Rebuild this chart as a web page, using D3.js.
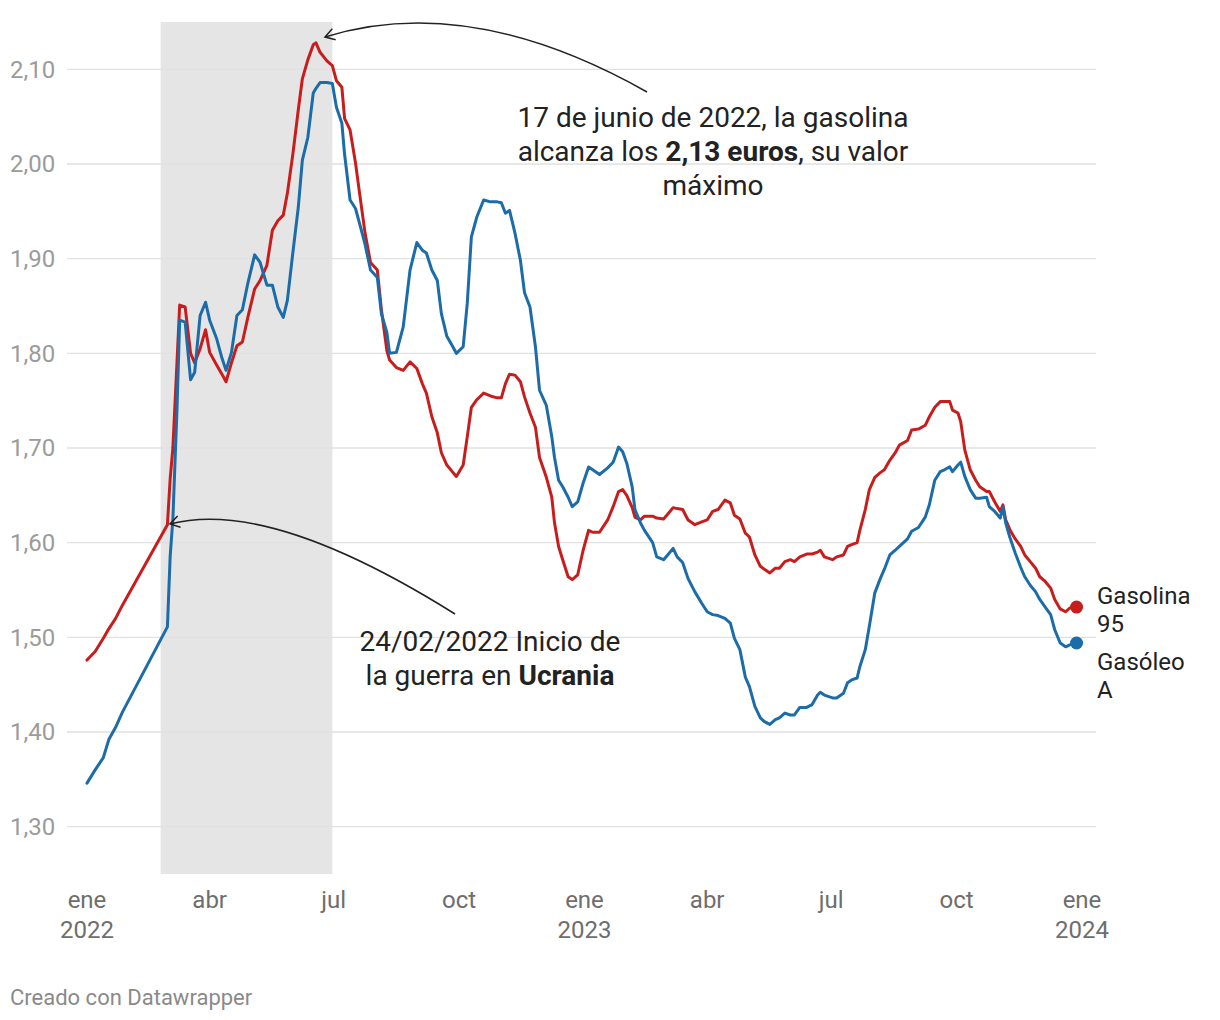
<!DOCTYPE html>
<html><head><meta charset="utf-8">
<script src="https://cdn.jsdelivr.net/npm/d3@7"></script>
<style>
html,body{margin:0;padding:0;background:#fff;}
svg text{font-family:Roboto,"Noto Sans",sans-serif;}
</style></head>
<body>
<svg id="chart" width="1220" height="1020"></svg>
<script>
const dates = ["2022-01-01","2022-01-07","2022-01-13","2022-01-17","2022-01-22","2022-01-27","2022-03-01","2022-03-03","2022-03-05","2022-03-08","2022-03-10","2022-03-14","2022-03-18","2022-03-21","2022-03-25","2022-03-29","2022-04-01","2022-04-06","2022-04-10","2022-04-13","2022-04-17","2022-04-21","2022-04-25","2022-04-29","2022-05-04","2022-05-08","2022-05-13","2022-05-17","2022-05-21","2022-05-25","2022-05-28","2022-06-01","2022-06-05","2022-06-08","2022-06-12","2022-06-16","2022-06-18","2022-06-21","2022-06-26","2022-06-30","2022-07-03","2022-07-07","2022-07-09","2022-07-13","2022-07-17","2022-07-20","2022-07-24","2022-07-28","2022-08-02","2022-08-05","2022-08-09","2022-08-11","2022-08-16","2022-08-21","2022-08-26","2022-08-31","2022-09-04","2022-09-07","2022-09-11","2022-09-15","2022-09-18","2022-09-22","2022-09-26","2022-09-29","2022-10-04","2022-10-07","2022-10-10","2022-10-14","2022-10-19","2022-10-24","2022-10-29","2022-11-01","2022-11-04","2022-11-07","2022-11-11","2022-11-15","2022-11-18","2022-11-22","2022-11-26","2022-11-29","2022-12-04","2022-12-08","2022-12-10","2022-12-13","2022-12-16","2022-12-20","2022-12-23","2022-12-27","2022-12-31","2023-01-04","2023-01-07","2023-01-12","2023-01-18","2023-01-22","2023-01-26","2023-01-29","2023-02-01","2023-02-05","2023-02-07","2023-02-11","2023-02-14","2023-02-20","2023-02-23","2023-02-28","2023-03-03","2023-03-07","2023-03-10","2023-03-14","2023-03-18","2023-03-23","2023-03-28","2023-04-01","2023-04-05","2023-04-09","2023-04-14","2023-04-18","2023-04-21","2023-04-25","2023-04-29","2023-05-02","2023-05-06","2023-05-10","2023-05-13","2023-05-17","2023-05-21","2023-05-24","2023-05-28","2023-06-01","2023-06-04","2023-06-08","2023-06-13","2023-06-17","2023-06-21","2023-06-23","2023-06-26","2023-07-02","2023-07-05","2023-07-10","2023-07-13","2023-07-16","2023-07-20","2023-07-22","2023-07-26","2023-07-29","2023-08-02","2023-08-06","2023-08-09","2023-08-13","2023-08-17","2023-08-20","2023-08-26","2023-08-29","2023-09-03","2023-09-08","2023-09-11","2023-09-15","2023-09-19","2023-09-22","2023-09-26","2023-09-28","2023-10-02","2023-10-04","2023-10-07","2023-10-11","2023-10-15","2023-10-18","2023-10-23","2023-10-25","2023-10-29","2023-11-02","2023-11-04","2023-11-06","2023-11-09","2023-11-13","2023-11-17","2023-11-20","2023-11-24","2023-11-28","2023-12-01","2023-12-05","2023-12-09","2023-12-12","2023-12-16","2023-12-20","2023-12-23","2023-12-28"];

const gasolina95 = [1.476,1.485,1.499,1.509,1.520,1.534,1.619,1.667,1.700,1.790,1.851,1.849,1.800,1.790,1.805,1.825,1.801,1.788,1.778,1.770,1.790,1.808,1.812,1.838,1.868,1.877,1.893,1.930,1.940,1.946,1.969,2.010,2.057,2.090,2.110,2.126,2.128,2.118,2.109,2.104,2.088,2.081,2.048,2.036,2.001,1.969,1.927,1.896,1.888,1.846,1.803,1.793,1.785,1.782,1.791,1.784,1.768,1.758,1.733,1.716,1.695,1.682,1.675,1.670,1.682,1.712,1.743,1.751,1.758,1.755,1.753,1.753,1.768,1.778,1.777,1.770,1.754,1.737,1.722,1.690,1.669,1.648,1.621,1.596,1.582,1.564,1.561,1.566,1.592,1.613,1.611,1.611,1.624,1.638,1.654,1.656,1.650,1.637,1.627,1.624,1.628,1.628,1.626,1.625,1.630,1.637,1.636,1.635,1.624,1.619,1.622,1.624,1.633,1.635,1.645,1.642,1.629,1.625,1.610,1.606,1.587,1.575,1.572,1.568,1.573,1.573,1.580,1.582,1.580,1.585,1.588,1.588,1.590,1.592,1.585,1.582,1.585,1.587,1.596,1.598,1.600,1.613,1.635,1.656,1.669,1.674,1.677,1.687,1.695,1.703,1.708,1.719,1.720,1.724,1.733,1.743,1.749,1.749,1.749,1.740,1.737,1.728,1.698,1.677,1.666,1.659,1.654,1.654,1.643,1.633,1.640,1.624,1.614,1.604,1.596,1.587,1.580,1.573,1.564,1.559,1.552,1.540,1.530,1.527,1.531,1.532];

const gasoleoA = [1.346,1.360,1.373,1.392,1.405,1.421,1.511,1.585,1.625,1.740,1.835,1.833,1.772,1.780,1.840,1.854,1.835,1.816,1.795,1.782,1.801,1.840,1.846,1.874,1.904,1.896,1.872,1.872,1.849,1.838,1.856,1.906,1.954,2.004,2.028,2.075,2.080,2.086,2.086,2.085,2.060,2.043,2.010,1.962,1.953,1.937,1.915,1.888,1.880,1.842,1.822,1.800,1.801,1.828,1.888,1.917,1.909,1.906,1.888,1.877,1.842,1.818,1.808,1.800,1.807,1.853,1.923,1.944,1.962,1.960,1.960,1.959,1.948,1.951,1.927,1.898,1.864,1.849,1.807,1.761,1.745,1.712,1.690,1.666,1.659,1.648,1.638,1.643,1.663,1.680,1.677,1.672,1.679,1.685,1.701,1.696,1.684,1.659,1.635,1.621,1.613,1.600,1.585,1.582,1.587,1.594,1.585,1.579,1.562,1.548,1.536,1.527,1.524,1.523,1.520,1.515,1.499,1.487,1.458,1.448,1.427,1.415,1.411,1.408,1.413,1.415,1.420,1.418,1.418,1.426,1.426,1.429,1.439,1.442,1.439,1.436,1.436,1.441,1.452,1.455,1.457,1.469,1.487,1.512,1.547,1.562,1.572,1.587,1.592,1.596,1.604,1.612,1.616,1.627,1.640,1.666,1.675,1.677,1.680,1.675,1.682,1.685,1.670,1.656,1.647,1.647,1.648,1.638,1.633,1.626,1.638,1.621,1.606,1.589,1.574,1.564,1.555,1.548,1.540,1.532,1.524,1.508,1.494,1.490,1.492,1.494];

const yTicks = [1.3,1.4,1.5,1.6,1.7,1.8,1.9,2.0,2.1];
const xTickDates = ["2022-01-01","2022-04-01","2022-07-01","2022-10-01","2023-01-01","2023-04-01","2023-07-01","2023-10-01","2024-01-01"];
const xTickLabels = [["ene","2022"],["abr"],["jul"],["oct"],["ene","2023"],["abr"],["jul"],["oct"],["ene","2024"]];
const seriesNames = [["Gasolina","95"],["Gasóleo","A"]];
const seriesColors = ["#c71e1d","#1b6ca8"];
const warPeriod = ["2022-02-24","2022-06-30"];

const parse = d3.utcParse("%Y-%m-%d");
const svg = d3.select("#chart");

const x = d3.scaleUtc().domain([parse("2022-01-01"), parse("2024-01-01")]).range([87, 1082]);
const y = d3.scaleLinear().domain([1.25, 2.15]).range([874, 22]);

svg.append("rect")
  .attr("x", x(parse(warPeriod[0])))
  .attr("y", y(2.15))
  .attr("width", x(parse(warPeriod[1])) - x(parse(warPeriod[0])))
  .attr("height", y(1.25) - y(2.15))
  .attr("fill", "#e5e5e5");

const fmt = v => d3.format(".2f")(v).replace(".", ",");
const yAxis = svg.append("g");
yTicks.forEach(t => {
  yAxis.append("line").attr("x1", 67).attr("x2", 1096)
    .attr("y1", y(t)).attr("y2", y(t))
    .attr("stroke", "#e1e1e1").attr("stroke-width", 1.3);
  yAxis.append("text").attr("x", 10).attr("y", y(t)).attr("dy", "0.35em")
    .attr("font-size", 24).attr("fill", "#9b9b9b").text(fmt(t));
});

const xAxis = svg.append("g");
xTickDates.forEach((d, i) => {
  const xx = x(parse(d));
  xTickLabels[i].forEach((lab, j) => {
    xAxis.append("text").attr("x", xx).attr("y", 900 + j * 30).attr("dy", "0.35em")
      .attr("text-anchor", "middle").attr("font-size", 24)
      .attr("fill", "#6e6e6e").text(lab);
  });
});

const line = d3.line().x((d, i) => x(parse(dates[i]))).y(d => y(d));
[gasolina95, gasoleoA].forEach((s, k) => {
  svg.append("path").datum(s).attr("d", line)
    .attr("fill", "none").attr("stroke", seriesColors[k])
    .attr("stroke-width", 3).attr("stroke-linejoin", "round").attr("stroke-linecap", "round");
});

[gasolina95, gasoleoA].forEach((s, k) => {
  const last = s.length - 1;
  svg.append("circle").attr("cx", x(parse(dates[last]))).attr("cy", y(s[last]))
    .attr("r", 6.5).attr("fill", seriesColors[k]);
});
const labY = [596, 662];
seriesNames.forEach((nm, k) => {
  nm.forEach((t, j) => {
    svg.append("text").attr("x", 1097).attr("y", labY[k] + j * 28).attr("dy", "0.35em")
      .attr("font-size", 24).attr("fill", "#222").text(t);
  });
});

function arrow(p0, c, p2) {
  svg.append("path").attr("d", `M${p0[0]},${p0[1]} Q${c[0]},${c[1]} ${p2[0]},${p2[1]}`)
    .attr("fill", "none").attr("stroke", "#222").attr("stroke-width", 1.5);
  const ang = Math.atan2(p2[1] - c[1], p2[0] - c[0]);
  const L = 11, spread = 0.55;
  const a1 = [p2[0] - L * Math.cos(ang - spread), p2[1] - L * Math.sin(ang - spread)];
  const a2 = [p2[0] - L * Math.cos(ang + spread), p2[1] - L * Math.sin(ang + spread)];
  svg.append("path").attr("d", `M${a1[0]},${a1[1]} L${p2[0]},${p2[1]} L${a2[0]},${a2[1]}`)
    .attr("fill", "none").attr("stroke", "#222").attr("stroke-width", 1.5);
}
arrow([647, 92], [470, -8], [325, 37]);
arrow([455, 614], [270, 498], [170, 524]);

function richText(cx, cy, parts, size) {
  const t = svg.append("text").attr("x", cx).attr("y", cy).attr("dy", "0.35em")
    .attr("text-anchor", "middle").attr("font-size", size).attr("fill", "#222");
  parts.forEach(p => t.append("tspan").attr("font-weight", p[1] ? 700 : 400).text(p[0]));
}
richText(713, 117, [["17 de junio de 2022, la gasolina", false]], 28);
richText(713, 151, [["alcanza los ", false], ["2,13 euros", true], [", su valor", false]], 28);
richText(713, 185, [["máximo", false]], 28);
richText(490, 641, [["24/02/2022 Inicio de", false]], 28);
richText(490, 675, [["la guerra en ", false], ["Ucrania", true]], 28);

svg.append("text").attr("x", 10).attr("y", 997).attr("dy", "0.35em")
  .attr("font-size", 22).attr("fill", "#8a8a8a").text("Creado con Datawrapper");
</script>
</body></html>
